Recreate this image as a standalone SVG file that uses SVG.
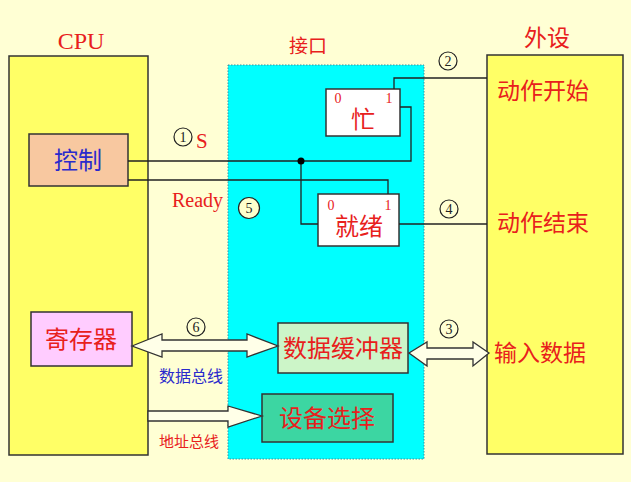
<svg xmlns="http://www.w3.org/2000/svg" width="631" height="482" viewBox="0 0 631 482">
<style>
.zh{font-family:"Noto Sans CJK SC","Noto Sans",sans-serif;}
.lt{font-family:"Liberation Serif","Times New Roman",serif;}
.red{fill:#E8201C;}
.blue{fill:#2A2ACC;}
.box{stroke:#333;stroke-width:1.5;}
.wire{fill:none;stroke:#222;stroke-width:1.3;}
.circ{fill:none;stroke:#222;stroke-width:1.2;}
.num{font-family:"Liberation Serif","Times New Roman",serif;font-size:14px;fill:#222;text-anchor:middle;}
.arrow{fill:#FFFFE8;stroke:#333;stroke-width:1.3;}
</style>
<rect width="631" height="482" fill="#FFFFD4"/>
<g id="cpu">
<rect class="box" x="9" y="56" width="139" height="399" fill="#FFFF66"/>
<text class="lt red" x="81" y="49" font-size="24" text-anchor="middle">CPU</text>
</g>
<g id="interface">
<rect x="228" y="65" width="196" height="394" fill="#00FFFF" stroke="#3A8FA0" stroke-width="1" stroke-dasharray="1.5,1.5"/>
<text class="zh red" x="308" y="53" font-size="19" text-anchor="middle">接口</text>
</g>
<g id="peripheral">
<rect class="box" x="487" y="55" width="136" height="399" fill="#FFFF66"/>
<text class="zh red" x="547" y="46" font-size="23" text-anchor="middle">外设</text>
<text class="zh red" x="497" y="99" font-size="23">动作开始</text>
<text class="zh red" x="497" y="231" font-size="23">动作结束</text>
<text class="zh red" x="494" y="361" font-size="23">输入数据</text>
</g>
<g id="control">
<rect class="box" x="29" y="134" width="99" height="52" fill="#F8C8A0"/>
<text class="zh blue" x="78" y="169" font-size="24" text-anchor="middle">控制</text>
</g>
<g id="register">
<rect class="box" x="31" y="312" width="101" height="54" fill="#FFCCFF"/>
<text class="zh red" x="81" y="348" font-size="24" text-anchor="middle">寄存器</text>
</g>
<g id="busy">
<rect class="box" x="326" y="89" width="74" height="47" fill="#FFFFFF"/>
<text class="zh red" x="363" y="128" font-size="24" text-anchor="middle">忙</text>
<text class="lt red" x="338" y="103" font-size="14" text-anchor="middle">0</text>
<text class="lt red" x="389" y="103" font-size="14" text-anchor="middle">1</text>
</g>
<g id="ready">
<rect class="box" x="318" y="194" width="81" height="52" fill="#FFFFFF"/>
<text class="zh red" x="359" y="235" font-size="24" text-anchor="middle">就绪</text>
<text class="lt red" x="331" y="210" font-size="14" text-anchor="middle">0</text>
<text class="lt red" x="388" y="210" font-size="14" text-anchor="middle">1</text>
</g>
<g id="buffer">
<rect class="box" x="278" y="323" width="130" height="50" fill="#CCF5C8"/>
<text class="zh red" x="343" y="357" font-size="24" text-anchor="middle">数据缓冲器</text>
</g>
<g id="select">
<rect class="box" x="262" y="394" width="131" height="48" fill="#3CD6A2"/>
<text class="zh red" x="327" y="427" font-size="24" text-anchor="middle">设备选择</text>
</g>
<g id="connectors">
<polyline class="wire" points="128,161 411,161 411,107 400,107"/>
<polyline class="wire" points="128,180 388,180 388,194"/>
<polyline class="wire" points="301,161 301,224 318,224"/>
<polyline class="wire" points="394,89 394,78 487,78"/>
<line class="wire" x1="399" y1="224" x2="487" y2="224"/>
<circle cx="301" cy="161" r="3.5" fill="#000"/>
<polygon class="arrow" points="132,346 162,334 162,340 247,340 247,334 278,346 247,357 247,351 162,351 162,357"/>
<polygon class="arrow" points="409,353 427,342 427,348 473,348 473,342 489,353 473,366 473,359 427,359 427,366"/>
<polygon class="arrow" points="148,411 228,411 228,406 262,416 228,427 228,421 148,421"/>
<circle class="circ" cx="183" cy="137" r="9"/>
<text class="num" x="183" y="142">1</text>
<text class="lt red" x="196" y="148" font-size="21">S</text>
<text class="lt red" x="172" y="207" font-size="20">Ready</text>
<circle cx="249" cy="208" r="10.5" fill="#FFFFCC" stroke="#222" stroke-width="1.2"/>
<text class="num" x="249" y="213">5</text>
<circle class="circ" cx="448" cy="61" r="9"/>
<text class="num" x="448" y="66">2</text>
<circle class="circ" cx="449" cy="209" r="9"/>
<text class="num" x="449" y="214">4</text>
<circle class="circ" cx="196" cy="327" r="9"/>
<text class="num" x="196" y="332">6</text>
<circle class="circ" cx="449" cy="329" r="9"/>
<text class="num" x="449" y="334">3</text>
<text class="zh blue" x="159" y="382" font-size="16">数据总线</text>
<text class="zh red" x="159" y="447" font-size="15">地址总线</text>
</g>
</svg>
